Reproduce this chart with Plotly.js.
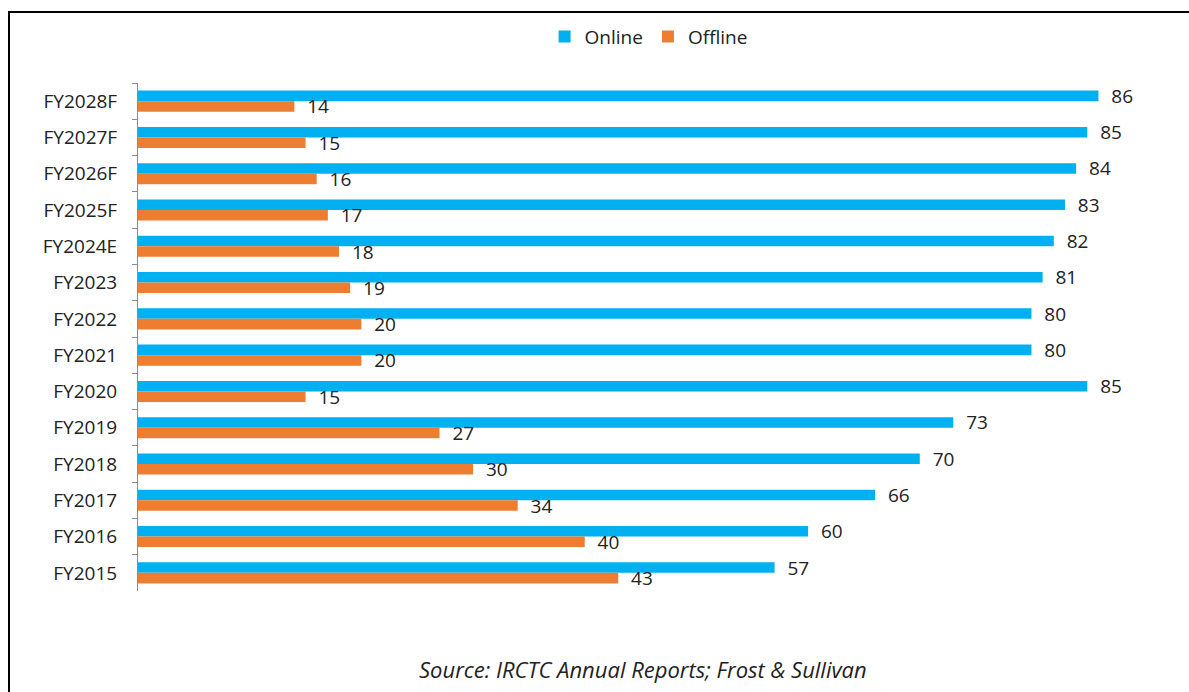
<!DOCTYPE html>
<html>
<head>
<meta charset="utf-8">
<script src="https://cdn.plot.ly/plotly-3.0.1.min.js"></script>
<style>
  html, body { margin: 0; padding: 0; background: #fff; }
  #wrap { position: relative; width: 1189px; height: 692px; overflow: hidden; }
  #chart { position: absolute; left: 0; top: 0; width: 1189px; height: 692px; }
  #frame { position: absolute; left: 8px; top: 11px; width: 1200px; height: 700px;
           border-left: 2px solid #000; border-top: 2px solid #000; pointer-events: none; }
</style>
</head>
<body>
<div id="wrap">
  <div id="chart"></div>
  <div id="frame"></div>
</div>
<script>
const categories = ["FY2028F","FY2027F","FY2026F","FY2025F","FY2024E","FY2023","FY2022","FY2021","FY2020","FY2019","FY2018","FY2017","FY2016","FY2015"];
const onlineValues = [86,85,84,83,82,81,80,80,85,73,70,66,60,57];
const offlineValues = [14,15,16,17,18,19,20,20,15,27,30,34,40,43];
const seriesNames = ["Online","Offline"];
const sourceText = "Source: IRCTC Annual Reports; Frost &amp; Sullivan";

const FONT = "Open Sans, Liberation Sans, sans-serif";
const TXT = "#222222";
const FS = 19;

const traces = [
  {
    type: "bar", orientation: "h", name: seriesNames[0],
    y: categories, x: onlineValues,
    marker: { color: "#00B0F0" },
    text: onlineValues.map(v => "  " + v), textposition: "outside", constraintext: "none",
    textfont: { family: FONT, size: FS, color: TXT },
    cliponaxis: false, hoverinfo: "x+y"
  },
  {
    type: "bar", orientation: "h", name: seriesNames[1],
    y: categories, x: offlineValues,
    marker: { color: "#ED7D31" },
    text: offlineValues.map(v => "  " + v), textposition: "outside", constraintext: "none",
    textfont: { family: FONT, size: FS, color: TXT },
    cliponaxis: false, hoverinfo: "x+y"
  }
];

const layout = {
  width: 1189, height: 692,
  paper_bgcolor: "#ffffff", plot_bgcolor: "#ffffff",
  margin: { l: 138, r: 9, t: 83, b: 101, pad: 0 },
  barmode: "group", bargap: 0.42, bargroupgap: 0,
  font: { family: FONT, size: FS, color: TXT },
  showlegend: true,
  legend: {
    orientation: "h", x: 0.49, xanchor: "center", xref: "paper",
    y: 1.091, yref: "paper", yanchor: "middle",
    font: { family: FONT, size: FS, color: TXT },
    itemwidth: 30, itemclick: false
  },
  xaxis: {
    range: [0, 93.3], visible: false, showgrid: false, zeroline: false, fixedrange: true
  },
  yaxis: {
    type: "category", autorange: "reversed",
    showline: true, linecolor: "#8c8c8c", linewidth: 1,
    ticks: "outside", tickson: "boundaries", ticklen: 5, tickcolor: "#8c8c8c",
    ticklabelstandoff: 16,
    tickfont: { family: FONT, size: FS, color: TXT },
    showgrid: false, zeroline: false, fixedrange: true
  },
  annotations: [
    {
      text: "<i>" + sourceText + "</i>", showarrow: false,
      xref: "paper", yref: "paper", x: 0.485, y: -0.154, xanchor: "center", yanchor: "middle",
      font: { family: FONT, size: 22, color: TXT }
    }
  ]
};

Plotly.newPlot("chart", traces, layout, { displayModeBar: false, staticPlot: true });
</script>
</body>
</html>
